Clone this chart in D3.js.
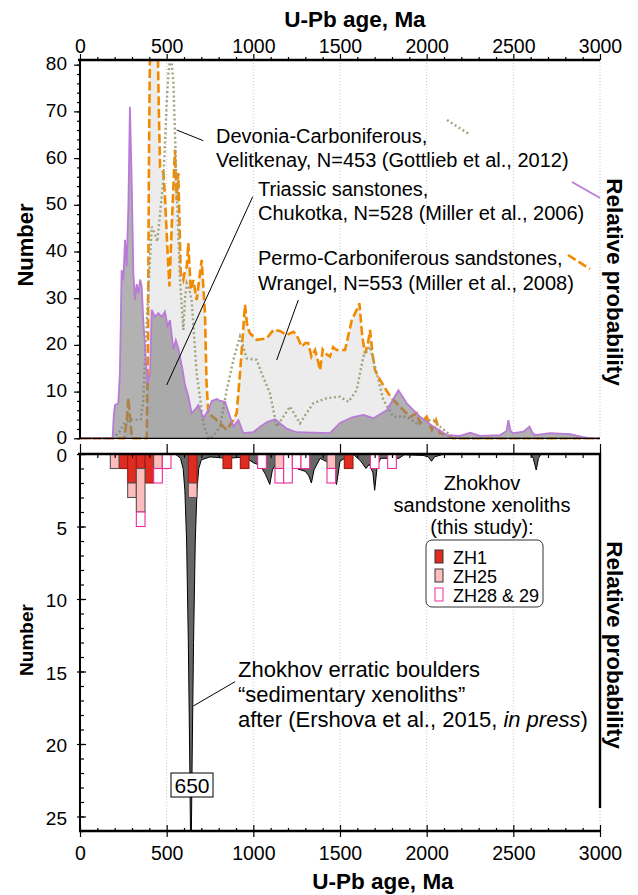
<!DOCTYPE html>
<html>
<head>
<meta charset="utf-8">
<style>
    body, html {
        margin: 0;
        padding: 0;
        background: #fff;
    }
    svg {
        display: block;
        font-family: "Liberation Sans", Arial, Helvetica, sans-serif;
    }
</style>
</head>
<body>
<svg width="638" height="895"></svg>

<script src="https://d3js.org/d3.v7.min.js"></script>
<script>
    // ---- data ----
    var ageTicks = [0, 500, 1000, 1500, 2000, 2500, 3000];
    var topNumberTicks = [0, 10, 20, 30, 40, 50, 60, 70, 80];
    var bottomNumberTicks = [0, 5, 10, 15, 20, 25];

    // Triassic sandstones, Chukotka (purple, filled)
    var chukotka = [[0,0],[188,0],[195,5],[202,7.1],[221,7.5],[230,14],[235,24],[240,36],[250,33.9],[260,42.5],
        [269,36.8],[279,49.6],[288,71],[298,55.3],[308,35.4],[317,29.6],[327,33],[337,31],[347,34],[356,32.5],
        [365,25.3],[378,18],[389,11.8],[404,14],[414,27.5],[433,26],[452,26.8],[471,26],[490,27.1],[505,24],
        [519,25.3],[539,19],[553,21],[567,19.3],[590,15],[606,11.4],[625,9],[644,5.4],[660,6],[683,7.1],
        [712,4.3],[740,6],[760,8],[789,8.4],[810,8],[837,7.8],[866,4.6],[885,2.5],[914,3.9],[942,1.1],
        [1000,1.3],[1039,2.5],[1080,3.5],[1125,4.1],[1160,3],[1192,2.1],[1250,1.3],[1442,1.1],[1500,3.3],
        [1570,4.5],[1635,5],[1692,4.3],[1770,6],[1837,10.3],[1885,7.5],[1962,4.6],[2039,2.5],[2116,0.7],
        [2193,0.5],[2251,1.2],[2308,0.5],[2423,0.7],[2460,1.5],[2471,3.9],[2485,1.5],[2500,1.1],[2558,1.4],
        [2593,2.5],[2610,1.2],[2625,0.7],[2712,1.1],[2827,0.9],[2895,0.3],[2950,0],[3000,0]];

    // Permo-Carboniferous sandstones, Wrangel (orange dashed, light fill)
    var wrangel = [[0,0],[255,0],[270,4],[279,8.6],[290,4],[300,0],[385,0],[392,20],[398,60],[403,81],
        [450,81],[455,70],[462,58],[481,57],[490,51.8],[505,40],[516,32.5],[529,45.3],[548,61.8],[558,51],
        [567,56.8],[581,35.4],[596,33.9],[606,36],[616,36.8],[625,41.8],[639,31.8],[654,33.9],[673,29.6],
        [702,38.2],[721,26.8],[730,12],[740,5.4],[789,3.9],[846,1.8],[885,3.9],[904,5.4],[923,13.9],
        [952,28.6],[965,24],[981,22.5],[1019,21.1],[1077,21.4],[1116,23.2],[1154,23],[1192,22.1],[1231,22.8],
        [1250,22.1],[1279,19.6],[1300,20.4],[1317,20.4],[1335,17.5],[1356,18.9],[1370,17],[1385,14.6],
        [1400,19],[1414,18.2],[1442,17.5],[1460,19.5],[1481,18.9],[1529,18.9],[1568,25.3],[1596,27.5],
        [1612,28.9],[1628,22],[1644,18.2],[1660,20],[1673,23.2],[1688,18],[1702,14.6],[1731,12.5],
        [1779,9.6],[1808,8.2],[1846,6.8],[1880,5.5],[1904,4.6],[1943,5.4],[1962,3.2],[2000,4.6],[2029,1.8],
        [2054,3.9],[2077,1.1],[2116,0.7],[2150,0],[3000,0]];

    // Devonian-Carboniferous, Velitkenay (dotted)
    var velitkenay = [[0,0],[190,0],[230,1.5],[260,3.5],[300,4],[350,4],[365,8],[375,16.8],[389,28.2],
        [414,45.3],[430,44],[446,42.1],[462,48.2],[481,55.3],[500,71.8],[510,78],[519,81],[530,80],[539,76],
        [558,53.2],[577,33.9],[596,23.2],[606,30],[616,33.2],[630,32],[644,29.6],[673,13.9],[712,3.2],
        [740,0],[770,0.5],[808,2.5],[846,10.3],[885,16.8],[923,21.8],[962,17.1],[1019,16.8],[1048,13.9],
        [1096,9.6],[1135,2.5],[1170,4.5],[1212,6.8],[1240,5],[1269,3.2],[1300,5],[1346,7.5],[1423,8.6],
        [1500,8.9],[1548,7.8],[1596,10.3],[1635,17.5],[1673,19.6],[1712,13.9],[1750,8.2],[1808,4.6],
        [1885,4.6],[1943,3.2],[1981,3.9],[2039,3.9],[2077,2.5],[2135,0.7],[2170,0],[3000,0]];

    // Zhokhov erratic boulders (dark, plotted downward)
    var erratic = [[0,0],[550,0],[580,0.3],[595,1],[605,2.5],[615,6],[625,13],[632,20],[640,29],[648,20],
        [655,13],[665,6],[675,2.5],[685,1],[700,0.4],[750,0.2],[850,0.3],[950,0.2],[1000,0.6],[1040,0.8],
        [1070,1.4],[1095,2.1],[1110,1.1],[1130,0.7],[1160,1.0],[1200,0.8],[1250,1.0],[1300,1.2],[1320,1.5],
        [1335,2.0],[1350,1.1],[1385,0.3],[1420,0.5],[1460,1.0],[1480,2.1],[1500,0.5],[1540,0.2],[1580,0.05],
        [1620,0.5],[1650,1.0],[1670,0.7],[1690,1.3],[1700,2.5],[1715,0.8],[1735,0.3],[1800,0.3],[1840,0.3],
        [1870,0.05],[1980,0.1],[2010,0.2],[2028,0.5],[2045,0.2],[2100,0],[2600,0],[2615,0.3],[2632,1.1],
        [2645,0.3],[2660,0],[3000,0]];

    // Zhokhov sandstone xenoliths, 50 Ma bins
    var binCenters = [200, 250, 300, 350, 400, 450, 500, 650, 850, 950, 1050, 1150, 1200, 1250, 1300, 1450, 1550, 1700, 1800];
    var zh1        = [0,   1,   2,   1,   2,   0,   0,   2,   1,   1,   0,    0,    0,    0,    0,    0,    1,    0,    0];
    var zh25       = [1,   0,   1,   3,   0,   1,   0,   1,   0,   0,   0,    1,    0,    0,    0,    1,    0,    0,    0];
    var zh2829     = [0,   0,   0,   1,   0,   1,   1,   0,   0,   0,   1,    1,    2,    1,    1,    1,    0,    1,    1];
    var sampleKeys = ["ZH1", "ZH25", "ZH28 & 29"];
    var sampleFill = ["#e02b20", "#ffbcbc", "#ffffff"];
    var sampleStroke = ["#9a1d15", "#555555", "#ee2a9b"];

    // ---- layout ----
    var svg = d3.select("svg");
    var x = d3.scaleLinear().domain([0, 3000]).range([80, 600]);
    var yTop = d3.scaleLinear().domain([0, 81]).range([438.3, 60]);
    var yBot = d3.scaleLinear().domain([0, 26]).range([454, 831]);
    var ageMinor = d3.range(0, 3001, 100).filter(function(d) { return d % 500; });

    svg.append("rect").attr("width", 638).attr("height", 895).attr("fill", "#fff");

    var defs = svg.append("defs");
    defs.append("clipPath").attr("id", "clipTop").append("rect")
        .attr("x", 80).attr("y", 58.5).attr("width", 520).attr("height", 382);
    defs.append("clipPath").attr("id", "clipBot").append("rect")
        .attr("x", 80).attr("y", 454).attr("width", 520).attr("height", 377);

    // GRID
    function grid(y1, y2) {
        svg.append("g").selectAll("line").data(ageTicks.slice(1)).enter().append("line")
            .attr("x1", x).attr("x2", x).attr("y1", y1).attr("y2", y2)
            .attr("stroke", "#bdbdbd").attr("stroke-width", 0.8).attr("stroke-dasharray", "1,2");
    }
    grid(60, 438);
    grid(454, 831);

    // TOP PANEL CURVES
    var areaTop = d3.area().x(function(d) { return x(d[0]); }).y0(yTop(0)).y1(function(d) { return yTop(d[1]); });
    var lineTop = d3.line().x(function(d) { return x(d[0]); }).y(function(d) { return yTop(d[1]); });
    var pTop = svg.append("g").attr("clip-path", "url(#clipTop)");

    pTop.append("path").datum(wrangel).attr("d", areaTop).attr("fill", "#ececec");
    svg.append("line").attr("x1", 80).attr("x2", 600).attr("y1", yTop(0)).attr("y2", yTop(0))
        .attr("stroke", "#000").attr("stroke-width", 1.2);
    pTop.append("path").datum(wrangel).attr("d", lineTop).attr("fill", "none")
        .attr("stroke", "#f28a00").attr("stroke-width", 2.6).attr("stroke-dasharray", "9,3.5");
    pTop.append("path").datum(velitkenay).attr("d", lineTop).attr("fill", "none")
        .attr("stroke", "#9fa47f").attr("stroke-width", 2.4).attr("stroke-dasharray", "2,2.6");
    pTop.append("path").datum(chukotka).attr("d", areaTop).attr("fill", "#7a7a7a").attr("fill-opacity", 0.58);
    pTop.append("path").datum(chukotka).attr("d", lineTop).attr("fill", "none")
        .attr("stroke", "#b97ad8").attr("stroke-width", 1.8);

    // BOTTOM PANEL
    var areaBot = d3.area().x(function(d) { return x(d[0]); }).y0(yBot(0)).y1(function(d) { return yBot(d[1]); });
    var pBot = svg.append("g").attr("clip-path", "url(#clipBot)");
    pBot.append("path").datum(erratic).attr("d", areaBot)
        .attr("fill", "#666").attr("stroke", "#000").attr("stroke-width", 1);

    var rows = binCenters.map(function(c, i) {
        return { age: c, "ZH1": zh1[i], "ZH25": zh25[i], "ZH28 & 29": zh2829[i] };
    });
    var stacked = d3.stack().keys(sampleKeys)(rows);
    stacked.forEach(function(layer, k) {
        pBot.append("g").selectAll("rect")
            .data(layer.filter(function(d) { return d[1] > d[0]; }))
            .enter().append("rect")
            .attr("x", function(d) { return x(d.data.age - 25); })
            .attr("width", function(d) { return x(d.data.age + 25) - x(d.data.age - 25); })
            .attr("y", function(d) { return yBot(d[0]); })
            .attr("height", function(d) { return yBot(d[1]) - yBot(d[0]); })
            .attr("fill", sampleFill[k]).attr("stroke", sampleStroke[k]).attr("stroke-width", 1.1);
    });

    // AXES
    function styleAxis(g, size, dy) {
        g.select(".domain").remove();
        g.selectAll(".tick line").attr("stroke", "#000").attr("stroke-width", 1.2);
        g.selectAll(".tick text").attr("fill", "#000")
            .style("font-family", '"Liberation Sans", Arial, sans-serif').style("font-size", size + "px");
        if (dy) g.selectAll(".tick text").attr("dy", dy);
    }

    // top panel: top axis
    svg.append("g").attr("transform", "translate(0,60)")
        .call(d3.axisTop(x).tickValues(ageMinor).tickSize(3).tickFormat(""))
        .call(styleAxis, 19);
    svg.append("g").attr("transform", "translate(0,60)")
        .call(d3.axisTop(x).tickValues(ageTicks).tickSize(6).tickPadding(1).tickFormat(d3.format("d")))
        .call(styleAxis, 19.5);
    // top panel: left axis
    svg.append("g").attr("transform", "translate(80,0)")
        .call(d3.axisLeft(yTop).tickValues(d3.range(0, 81, 2)).tickSize(3).tickFormat(""))
        .call(styleAxis, 19);
    svg.append("g").attr("transform", "translate(80,0)")
        .call(d3.axisLeft(yTop).tickValues(topNumberTicks).tickSize(6).tickPadding(7))
        .call(styleAxis, 19, "0.26em");

    // bottom panel: top axis
    svg.append("g").attr("transform", "translate(0,454)")
        .call(d3.axisBottom(x).tickValues(ageMinor).tickSize(4).tickFormat(""))
        .call(styleAxis, 19);
    svg.append("g").attr("transform", "translate(0,454)")
        .call(d3.axisTop(x).tickValues(ageTicks).tickSize(10).tickFormat(""))
        .call(styleAxis, 19);
    // bottom panel: left axis
    svg.append("g").attr("transform", "translate(80,0)")
        .call(d3.axisLeft(yBot).tickValues(d3.range(0, 27, 1)).tickSize(-4).tickFormat(""))
        .call(styleAxis, 19);
    svg.append("g").attr("transform", "translate(80,0)")
        .call(d3.axisLeft(yBot).tickValues(bottomNumberTicks).tickSize(-6).tickPadding(13))
        .call(styleAxis, 19, "0.4em");
    svg.append("g").attr("transform", "translate(80,0)")
        .call(d3.axisLeft(yBot).tickValues(bottomNumberTicks).tickSize(3).tickFormat(""))
        .call(styleAxis, 19);
    // bottom panel: bottom axis
    svg.append("g").attr("transform", "translate(0,831)")
        .call(d3.axisTop(x).tickValues(ageMinor).tickSize(3).tickFormat(""))
        .call(styleAxis, 19);
    svg.append("g").attr("transform", "translate(0,831)")
        .call(d3.axisTop(x).tickValues(ageTicks).tickSize(6).tickFormat(""))
        .call(styleAxis, 19);
    svg.append("g").attr("transform", "translate(0,831)")
        .call(d3.axisBottom(x).tickValues(ageTicks).tickSize(6).tickPadding(9).tickFormat(d3.format("d")))
        .call(styleAxis, 19.5);

    // frame lines
    var frame = [[78, 60, 600, 60, 2.6], [80, 59, 80, 438.3, 2], [78, 454, 600, 454, 2.6],
                 [80, 454, 80, 832, 2], [79, 831, 600, 831, 2.4], [600, 453, 600, 808, 2.4]];
    svg.append("g").selectAll("line").data(frame).enter().append("line")
        .attr("x1", function(d) { return d[0]; }).attr("y1", function(d) { return d[1]; })
        .attr("x2", function(d) { return d[2]; }).attr("y2", function(d) { return d[3]; })
        .attr("stroke", "#000").attr("stroke-width", function(d) { return d[4]; });

    // AXIS TITLES
    function title(txt, tx, ty, rot, size) {
        svg.append("text").attr("transform", "translate(" + tx + "," + ty + ") rotate(" + rot + ")")
            .attr("text-anchor", "middle").attr("font-weight", "bold").attr("font-size", size)
            .text(txt);
    }
    title("U-Pb age, Ma", 355, 27, 0, 22.5);
    title("U-Pb age, Ma", 383, 889, 0, 22.5);
    title("Number", 33, 245, -90, 22);
    title("Number", 33, 640, -90, 19);
    title("Relative probability", 607, 282, 90, 22.5);
    title("Relative probability", 607, 645, 90, 22.5);

    // ANNOTATIONS (top)
    var notes = svg.append("g").attr("font-size", 20);
    function lines(g, x0, y0, dy, arr) {
        var t = g.append("text").attr("x", x0).attr("y", y0);
        arr.forEach(function(s, i) {
            t.append("tspan").attr("x", x0).attr("dy", i ? dy : 0).text(s);
        });
        return t;
    }
    lines(notes, 216, 143, 24, ["Devonia-Carboniferous,", "Velitkenay, N=453 (Gottlieb et al., 2012)"]);
    lines(notes, 258, 196, 24, ["Triassic sanstones,", "Chukotka, N=528 (Miller et al., 2006)"]);
    lines(notes, 258, 265, 24.5, ["Permo-Carboniferous sandstones,", "Wrangel, N=553 (Miller et al., 2008)"]);

    var leaders = [[176.7, 130, 203.3, 140.7], [252.7, 196.7, 166.7, 385], [298.3, 300, 276.7, 360], [235, 681.7, 193.3, 706]];
    svg.append("g").selectAll("line").data(leaders).enter().append("line")
        .attr("x1", function(d) { return d[0]; }).attr("y1", function(d) { return d[1]; })
        .attr("x2", function(d) { return d[2]; }).attr("y2", function(d) { return d[3]; })
        .attr("stroke", "#000").attr("stroke-width", 1);

    // legend keys in top panel
    svg.append("line").attr("x1", 447).attr("y1", 120).attr("x2", 469).attr("y2", 134)
        .attr("stroke", "#9fa47f").attr("stroke-width", 2.4).attr("stroke-dasharray", "2,2.6");
    svg.append("line").attr("x1", 572).attr("y1", 182).attr("x2", 600).attr("y2", 198)
        .attr("stroke", "#b97ad8").attr("stroke-width", 1.8);
    svg.append("line").attr("x1", 568).attr("y1", 255).attr("x2", 590).attr("y2", 269)
        .attr("stroke", "#f28a00").attr("stroke-width", 2.6).attr("stroke-dasharray", "9,3.5");

    // ANNOTATIONS (bottom)
    var bnote = svg.append("g").attr("font-size", 22);
    bnote.append("text").attr("x", 238).attr("y", 677).text("Zhokhov erratic boulders");
    bnote.append("text").attr("x", 238).attr("y", 702).text("\u201csedimentary xenoliths\u201d");
    var t3 = bnote.append("text").attr("x", 238).attr("y", 727);
    t3.append("tspan").text("after (Ershova et al., 2015, ");
    t3.append("tspan").attr("font-style", "italic").text("in press");
    t3.append("tspan").text(")");

    // 650 label
    svg.append("rect").attr("x", 171).attr("y", 773).attr("width", 42).attr("height", 24)
        .attr("fill", "#fff").attr("stroke", "#000").attr("stroke-width", 1);
    svg.append("text").attr("x", 192).attr("y", 793).attr("text-anchor", "middle")
        .attr("font-size", 21).text("650");

    // legend for xenoliths
    var lg = svg.append("g");
    lg.append("g").attr("font-size", 20).attr("text-anchor", "middle").call(function(g) {
        lines(g, 482, 490, 22, ["Zhokhov", "sandstone xenoliths", "(this study):"]);
        g.selectAll("tspan").attr("x", 482);
    });
    lg.append("rect").attr("x", 426).attr("y", 540).attr("width", 117).attr("height", 67).attr("rx", 6)
        .attr("fill", "#fff").attr("stroke", "#333").attr("stroke-width", 1);
    sampleKeys.forEach(function(k, i) {
        lg.append("rect").attr("x", 435).attr("y", 550 + i * 19).attr("width", 8).attr("height", 13)
            .attr("fill", sampleFill[i]).attr("stroke", i === 2 ? sampleStroke[i] : "#333").attr("stroke-width", 1);
        lg.append("text").attr("x", 453).attr("y", 564 + i * 19).attr("font-size", 18).text(k);
    });
</script>
</body>
</html>
